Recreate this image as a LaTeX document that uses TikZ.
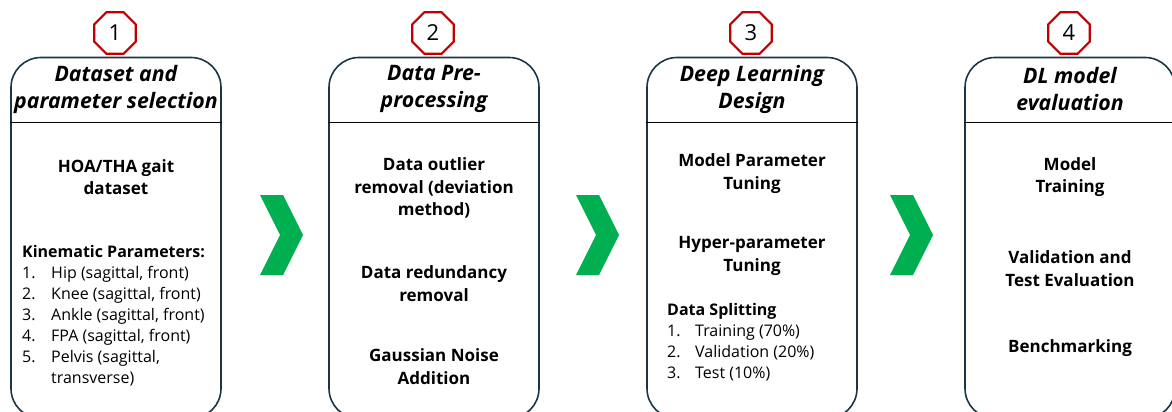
\documentclass[tikz,border=0pt]{standalone}
\usepackage{fontspec}
\setmainfont{Open Sans}
\usetikzlibrary{shapes.geometric}
\definecolor{boxline}{HTML}{1B3545}
\definecolor{octred}{HTML}{C00000}
\definecolor{chevgreen}{HTML}{00B050}
\tikzset{
  stagebox/.style={draw=boxline, line width=1.6pt, rounded corners=30pt, minimum width=210pt, minimum height=361pt, inner sep=0pt},
  octo/.style={regular polygon, regular polygon sides=8, draw=octred, line width=2.2pt, fill=white, minimum size=45pt, inner sep=0pt, font=\fontsize{22}{22}\selectfont},
  heading/.style={align=center, font=\fontsize{21.3}{27}\selectfont\bfseries\itshape},
  bodytext/.style={align=center, font=\fontsize{17}{22.5}\selectfont\bfseries},
  listhead/.style={anchor=base west, inner sep=0pt, font=\fontsize{16}{21}\selectfont\bfseries},
  listitem/.style={anchor=base west, inner sep=0pt, font=\fontsize{16}{21}\selectfont},
  chev/.style={fill=chevgreen, draw=none},
  sepline/.style={draw=black, line width=1.6pt}
}
\begin{document}
\begin{tikzpicture}[x=1pt,y=-1pt]
\useasboundingbox (0,0) rectangle (1172,412);
\clip (0,0) rectangle (1172,412);
% boxes
\foreach \i/\cx in {1/116,2/434,3/752,4/1070}{
  \node[stagebox] (b\i) at (\cx,238) {};
  \draw[sepline] (b\i.west |- 0,122.5) -- (b\i.east |- 0,122.5);
  \node[octo] (o\i) at (\cx-1,33) {\i};
}
% headings
\node[heading] (h1) at (116,89) {Dataset and\\parameter selection};
\node[heading] (h2) at (434,89) {Data Pre-\\processing};
\node[heading] (h3) at (752,89) {Deep Learning\\Design};
\node[heading] (h4) at (1070,89) {DL model\\evaluation};
% box 1
\node[bodytext] (t11) at (116,177) {HOA/THA gait\\dataset};
\node[listhead] (k1) at (22,257) {Kinematic Parameters:};
\foreach \n/\txt/\yy in {1/{Hip (sagittal, front)}/278,2/{Knee (sagittal, front)}/299,3/{Ankle (sagittal, front)}/320,4/{FPA (sagittal, front)}/341,5/{Pelvis (sagittal,}/362}{
  \node[listitem] (kn\n) at (22,\yy) {\n.};
  \node[listitem] (kt\n) at (51,\yy) {\txt};
}
\node[listitem] (kt6) at (51,383) {transverse)};
% box 2
\node[bodytext] (t21) at (434,188) {Data outlier\\removal (deviation\\method)};
\node[bodytext] (t22) at (434,283.5) {Data redundancy\\removal};
\node[bodytext] (t23) at (434,366.5) {Gaussian Noise\\Addition};
% box 3
\node[bodytext] (t31) at (752,173.5) {Model Parameter\\Tuning};
\node[bodytext] (t32) at (752,256) {Hyper-parameter\\Tuning};
\node[listhead] (s0) at (667,315) {Data Splitting};
\node[listitem] (sn1) at (667,336) {1.};
\node[listitem] (st1) at (695,336) {Training (70\%)};
\node[listitem] (sn2) at (667,357) {2.};
\node[listitem] (st2) at (695,357) {Validation (20\%)};
\node[listitem] (sn3) at (667,378) {3.};
\node[listitem] (st3) at (695,378) {Test (10\%)};
% box 4
\node[bodytext] (t41) at (1070,177) {Model\\Training};
\node[bodytext] (t42) at (1070,268.5) {Validation and\\Test Evaluation};
\node[bodytext] (t43) at (1070,348) {Benchmarking};
% chevrons
\foreach \x in {260,576,890}{
  \fill[chev] (\x,195) -- (\x+23,195) -- (\x+43,235) -- (\x+23,275) -- (\x,275) -- (\x+20,235) -- cycle;
}
\end{tikzpicture}
\end{document}
